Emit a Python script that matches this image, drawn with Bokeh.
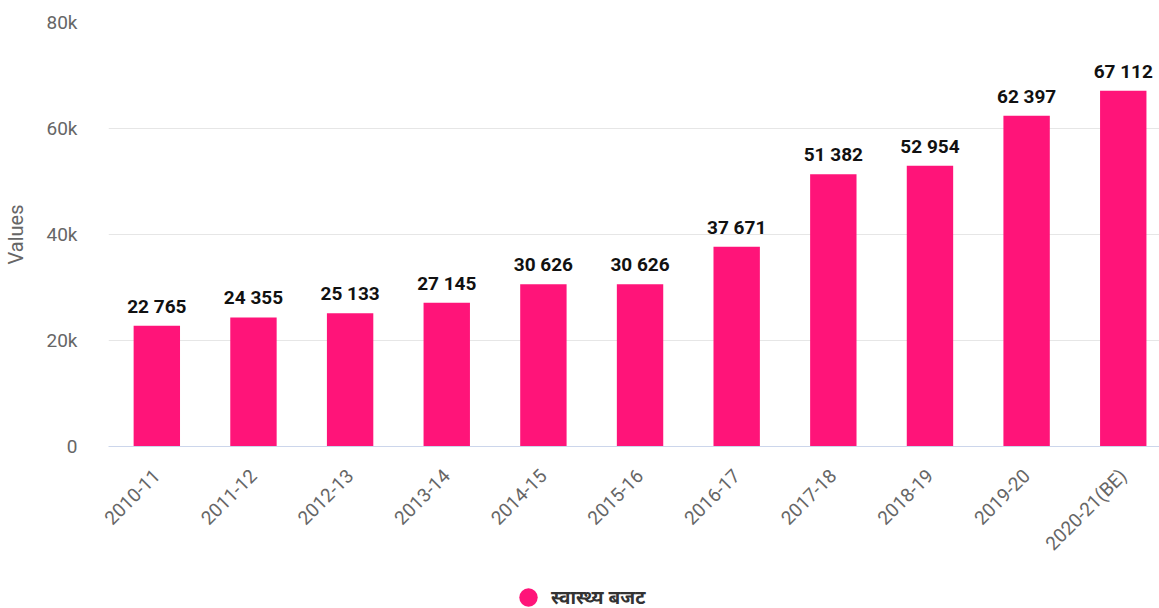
import math
from bokeh.plotting import figure
from bokeh.layouts import column
from bokeh.models import ColumnDataSource, Range1d, FixedTicker, Legend, LegendItem
from bokeh.core.properties import value
from bokeh.embed import file_html
from bokeh.resources import INLINE

categories = ["2010-11", "2011-12", "2012-13", "2013-14", "2014-15", "2015-16",
              "2016-17", "2017-18", "2018-19", "2019-20", "2020-21(BE)"]
values = [22765, 24355, 25133, 27145, 30626, 30626, 37671, 51382, 52954, 62397, 67112]
y_ticks = [0, 20000, 40000, 60000, 80000]
y_tick_labels = ["0", "20k", "40k", "60k", "80k"]
series_name = "स्वास्थ्य बजट"

BAR = "#ff1479"
FONT = "Roboto"

xs = list(range(len(categories)))
labels = [f"{v:,}".replace(",", " ") for v in values]
src = ColumnDataSource(dict(x=xs, top=values, label=labels))

p = figure(width=1159, height=570, output_backend="svg", toolbar_location=None,
           x_range=Range1d(-0.5, 10.375), y_range=Range1d(0, 80000),
           min_border_left=103, min_border_right=0, min_border_top=22,
           min_border_bottom=124)
p.outline_line_color = None
p.background_fill_color = "white"
p.border_fill_color = "white"

r = p.vbar(x="x", top="top", width=0.48, source=src, fill_color=BAR, line_color=None)
p.text(x="x", y="top", text="label", source=src, text_align="center",
       text_baseline="bottom", y_offset=-8, text_font=value(FONT),
       text_font_style="bold", text_font_size="19px", text_color="#111111")

# y axis
p.yaxis.ticker = FixedTicker(ticks=y_ticks)
p.yaxis.major_label_overrides = {t: l for t, l in zip(y_ticks, y_tick_labels)}
p.yaxis.axis_line_color = None
p.yaxis.major_tick_line_color = None
p.yaxis.minor_tick_line_color = None
p.yaxis.major_label_text_font = FONT
p.yaxis.major_label_text_font_size = "19px"
p.yaxis.major_label_text_color = "#666666"
p.yaxis.major_label_standoff = 25
p.yaxis.axis_label = "Values"
p.yaxis.axis_label_text_font = FONT
p.yaxis.axis_label_text_font_size = "20px"
p.yaxis.axis_label_text_font_style = "normal"
p.yaxis.axis_label_text_color = "#666666"
p.yaxis.axis_label_standoff = 16
p.ygrid.grid_line_color = "#e6e6e6"
p.ygrid.grid_line_width = 1

# x axis
p.xaxis.ticker = FixedTicker(ticks=xs)
p.xaxis.major_label_overrides = {i: c for i, c in enumerate(categories)}
p.xaxis.major_label_orientation = math.pi / 4
p.xaxis.axis_line_color = "#ccd6eb"
p.xaxis.major_tick_line_color = None
p.xaxis.minor_tick_line_color = None
p.xaxis.major_label_text_font = FONT
p.xaxis.major_label_text_font_size = "19px"
p.xaxis.major_label_text_color = "#666666"
p.xaxis.major_label_standoff = 20
p.xgrid.grid_line_color = None

# legend strip below the chart
lf = figure(width=1159, height=38, output_backend="svg", toolbar_location=None,
            x_range=Range1d(0, 1), y_range=Range1d(0, 1),
            min_border=0, x_axis_type=None, y_axis_type=None)
lf.outline_line_color = None
lf.grid.visible = False
dummy = lf.scatter(x=[-10], y=[-10], marker="circle", size=19,
                   fill_color=BAR, line_color=None)
legend = Legend(items=[LegendItem(label=series_name, renderers=[dummy])],
                location=(397, -12), orientation="horizontal",
                label_text_font="Noto Sans", label_text_font_style="bold",
                label_text_font_size="19px", label_text_color="#333333",
                glyph_width=46, glyph_height=46, label_standoff=0,
                padding=0, margin=0, spacing=0, border_line_color=None,
                background_fill_alpha=0)
lf.add_layout(legend, "center")

layout = column(p, lf, spacing=0)
open("out.html", "w").write(file_html(layout, INLINE))
